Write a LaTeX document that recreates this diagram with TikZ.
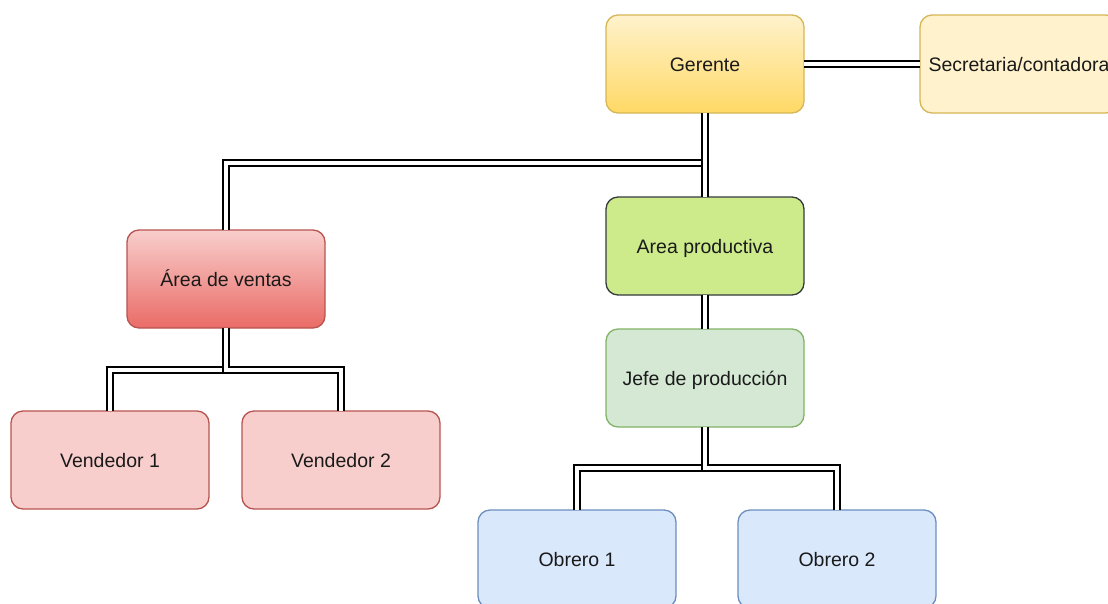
\documentclass[tikz,border=0pt]{standalone}
\usepackage{fontspec}
\setmainfont{Liberation Sans}
\usetikzlibrary{positioning}

\definecolor{txt}{HTML}{1A1A1A}
\definecolor{yelTop}{HTML}{FFF2CC}
\definecolor{yelBot}{HTML}{FFD966}
\definecolor{yelLine}{HTML}{D6B656}
\definecolor{redTop}{HTML}{F8CECC}
\definecolor{redBot}{HTML}{EA6B66}
\definecolor{redLine}{HTML}{B85450}
\definecolor{limeFill}{HTML}{CDEB8B}
\definecolor{limeLine}{HTML}{36393D}
\definecolor{grnFill}{HTML}{D5E8D4}
\definecolor{grnLine}{HTML}{82B366}
\definecolor{bluFill}{HTML}{DAE8FC}
\definecolor{bluLine}{HTML}{6C8EBF}

\tikzset{
  box/.style={rectangle, rounded corners=12pt, minimum width=198pt, minimum height=98pt,
    inner sep=0pt, outer sep=0pt, line width=1.3pt, text=txt,
    text height=15pt, text depth=0pt,
    font=\fontsize{19.5}{23}\selectfont},
  yelgrad/.style={box, draw=yelLine, top color=yelTop, bottom color=yelBot},
  yelflat/.style={box, draw=yelLine, fill=yelTop},
  redgrad/.style={box, draw=redLine, top color=redTop, bottom color=redBot},
  redflat/.style={box, draw=redLine, fill=redTop},
  limebox/.style={box, draw=limeLine, fill=limeFill},
  grnbox/.style={box, draw=grnLine, fill=grnFill},
  blubox/.style={box, draw=bluLine, fill=bluFill},
  dbl/.style={draw=black, line width=1.2pt, double=white, double distance=4.8pt}
}

\begin{document}
\begin{tikzpicture}[x=1pt, y=-1pt]
  \useasboundingbox (0,0) rectangle (1108,603);
  \clip (0,0) rectangle (1108,603);
  \fill[white] (0,0) rectangle (1108,603);

  % org chart boxes
  \node[yelgrad] (ger)  at (705,64)  {Gerente};
  \node[yelflat] (sec)  at (1019,64) {Secretaria/contadora};
  \node[redgrad] (ven)  at (226,279) {Área de ventas};
  \node[limebox] (prod) at (705,246) {Area productiva};
  \node[grnbox]  (jefe) at (705,378) {Jefe de producción};
  \node[redflat] (v1)   at (110,460) {Vendedor 1};
  \node[redflat] (v2)   at (341,460) {Vendedor 2};
  \node[blubox]  (o1)   at (577,559) {Obrero 1};
  \node[blubox]  (o2)   at (837,559) {Obrero 2};

  % double-line connectors
  \draw[dbl] (ger.east) -- (sec.west);
  \draw[dbl] (ger.south) -- ++(0,50) -| (ven.north);
  \draw[dbl] (ger.south) -- (prod.north);
  \draw[dbl] (prod.south) -- (jefe.north);
  \draw[dbl] (ven.south) -- ++(0,42) -| (v1.north);
  \draw[dbl] (ven.south) -- ++(0,42) -| (v2.north);
  \draw[dbl] (jefe.south) -- ++(0,41) -| (o1.north);
  \draw[dbl] (jefe.south) -- ++(0,41) -| (o2.north);
\end{tikzpicture}
\end{document}
